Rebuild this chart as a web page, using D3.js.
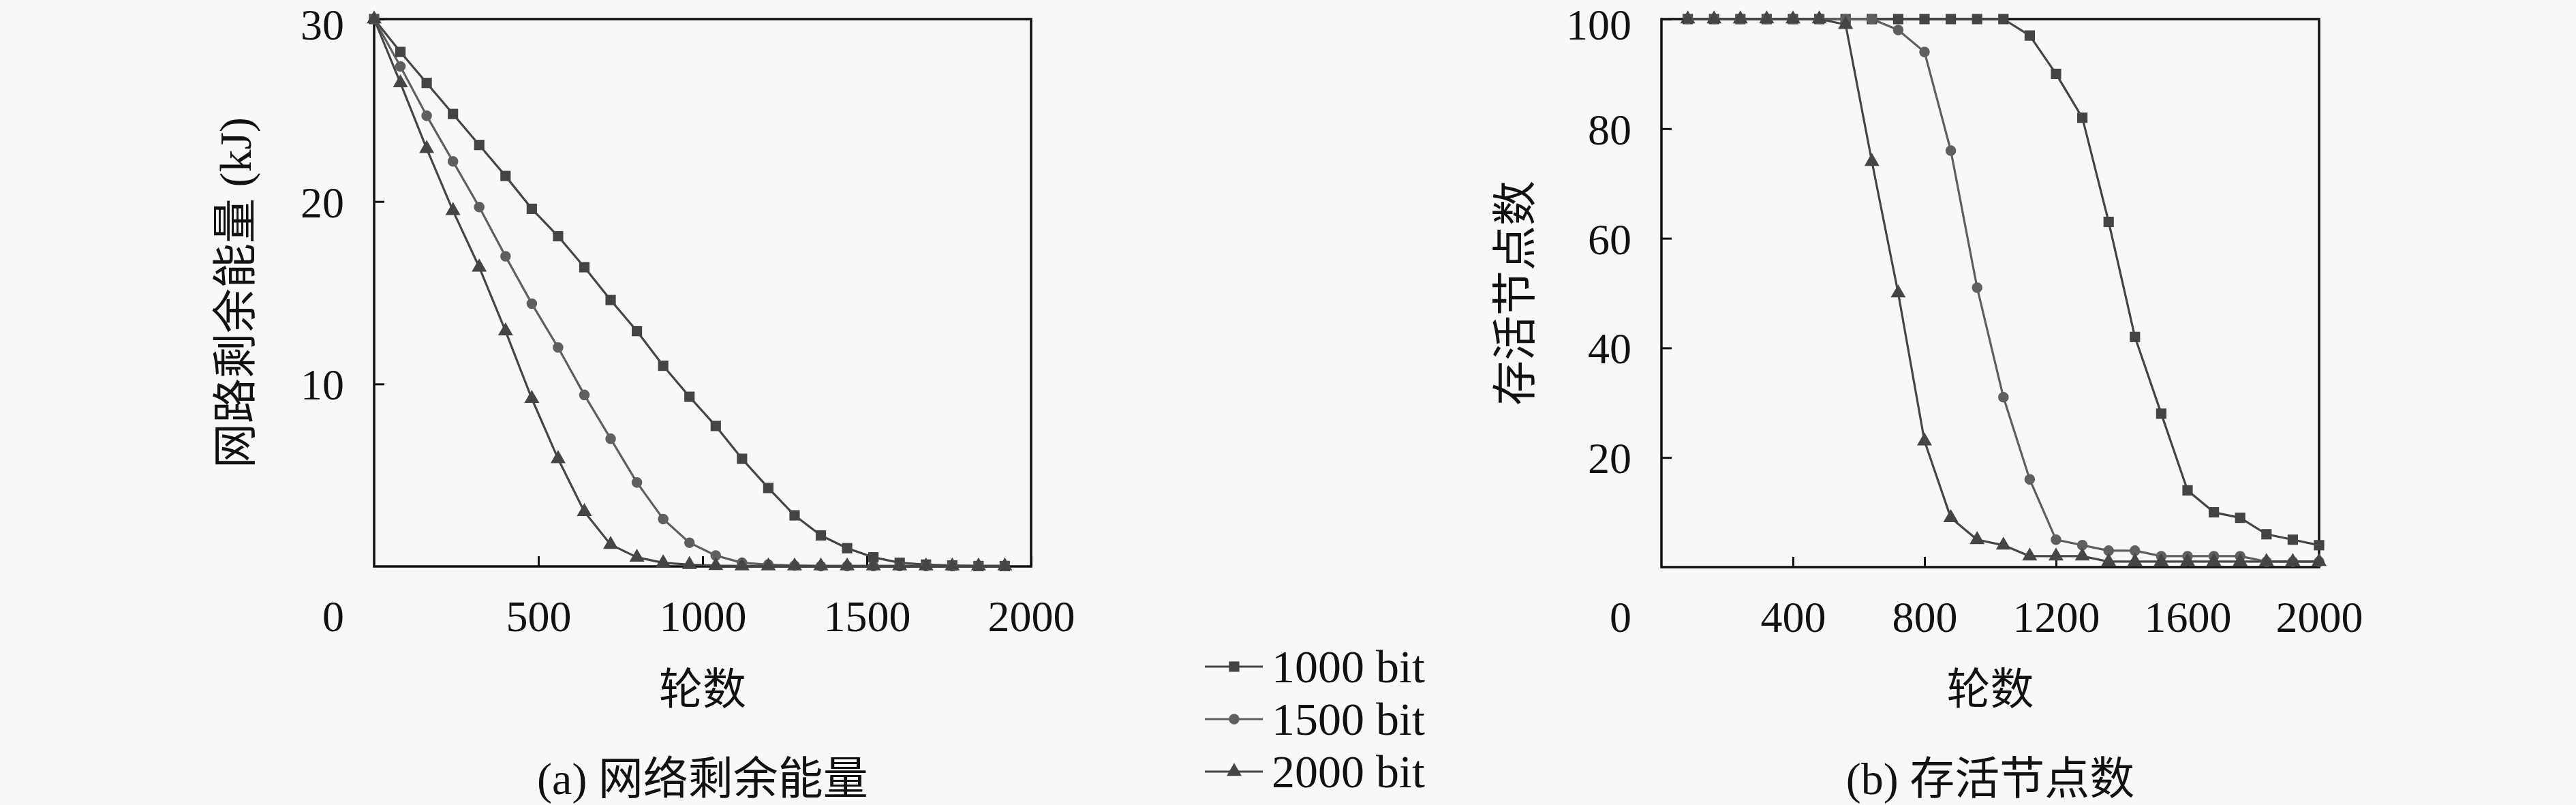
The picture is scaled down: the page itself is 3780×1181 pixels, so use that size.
<!DOCTYPE html>
<html>
<head>
<meta charset="utf-8">
<script src="https://cdn.jsdelivr.net/npm/d3@7"></script>
<style>
html,body{margin:0;padding:0;background:#f8f8f8;}
svg{display:block;}
text{font-family:"Liberation Serif","Noto Sans CJK SC",serif;fill:#111;}
</style>
</head>
<body>
<script>
// ---------- data ----------
const seriesNames = ["1000 bit", "1500 bit", "2000 bit"];
const roundsA = [0,80,160,240,320,400,480,560,640,720,800,880,960,1040,1120,1200,1280,1360,1440,1520,1600,1680,1760,1840,1920];
const energy1000 = [30,28.2,26.5,24.8,23.1,21.4,19.6,18.1,16.4,14.6,12.9,11.0,9.3,7.7,5.9,4.3,2.8,1.7,1.0,0.5,0.2,0.1,0.05,0.02,0.02];
const energy1500 = [30,27.4,24.7,22.2,19.7,17.0,14.4,12.0,9.4,7.0,4.6,2.6,1.3,0.6,0.2,0.1,0.05,0.02,0.02,0.02,0.02,0.02,0.02,0.02,0.02];
const energy2000 = [30,26.5,22.9,19.5,16.4,12.9,9.2,5.9,3.0,1.2,0.5,0.2,0.1,0.04,0.02,0.02,0.02,0.02,0.02,0.02,0.02,0.02,0.02,0.02,0.02];

const roundsB = [80,160,240,320,400,480,560,640,720,800,880,960,1040,1120,1200,1280,1360,1440,1520,1600,1680,1760,1840,1920,2000];
const alive1000 = [100,100,100,100,100,100,100,100,100,100,100,100,100,97,90,82,63,42,28,14,10,9,6,5,4];
const alive1500 = [100,100,100,100,100,100,100,100,98,94,76,51,31,16,5,4,3,3,2,2,2,2,1,1,1];
const alive2000 = [100,100,100,100,100,100,99,74,50,23,9,5,4,2,2,2,1,1,1,1,1,1,1,1,1];

const xTicksA = [500,1000,1500,2000];
const yTicksA = [10,20,30];
const xTicksB = [400,800,1200,1600,2000];
const yTicksB = [20,40,60,80,100];

const yLabelA = "网路剩余能量 (kJ)";
const yLabelB = "存活节点数";
const xLabel = "轮数";
const captionA = "(a) 网络剩余能量";
const captionB = "(b) 存活节点数";

// ---------- styles ----------
const colors = ["#444444", "#5f5f5f", "#454545"];
const symbols = [d3.symbolSquare, d3.symbolCircle, d3.symbolTriangle];
const symSizes = [230, 190, 210];
const FS = 64;
const fmt = d3.format("d");

const svg = d3.select("body").append("svg").attr("width",3780).attr("height",1181);
svg.append("rect").attr("width",3780).attr("height",1181).attr("fill","#f8f8f8");

function panel(cfg){
  const {x, y, xTicks, yTicks, rounds, series, yLabel, yLabelX, caption} = cfg;
  const g = svg.append("g");
  const [x0,x1] = x.range();
  const [y0,y1] = y.range();
  const yTop = y.domain()[1];

  // y axis ticks (inward)
  const ya = g.append("g").attr("transform",`translate(${x0},0)`)
    .call(d3.axisLeft(y).tickValues(yTicks).tickFormat(fmt).tickSizeInner(-15).tickSizeOuter(0).tickPadding(44));
  ya.select(".domain").remove();
  ya.selectAll("line").attr("stroke","#111").attr("stroke-width",3);
  ya.selectAll("text").attr("font-size",FS).attr("font-family","Liberation Serif").attr("fill","#111")
    .attr("dy", d => d === yTop ? "0.46em" : "0.35em");

  // x axis ticks (inward)
  const xa = g.append("g").attr("transform",`translate(0,${y0})`)
    .call(d3.axisBottom(x).tickValues(xTicks).tickFormat(fmt).tickSizeInner(-15).tickSizeOuter(0).tickPadding(50));
  xa.select(".domain").remove();
  xa.selectAll("line").attr("stroke","#111").attr("stroke-width",3);
  xa.selectAll("text").attr("font-size",FS).attr("font-family","Liberation Serif").attr("fill","#111");

  // origin label
  g.append("text").attr("x",x(0)-60).attr("y",y0+50).attr("dy","0.71em")
    .attr("text-anchor","middle").attr("font-size",FS).text("0");

  // frame
  g.append("rect").attr("x",x0).attr("y",y1).attr("width",x1-x0).attr("height",y0-y1)
    .attr("fill","none").attr("stroke","#111").attr("stroke-width",3.5);

  // series
  const line = d3.line().x(d=>x(d[0])).y(d=>y(d[1]));
  series.forEach((vals,i)=>{
    const pts = rounds.map((r,k)=>[r,vals[k]]);
    g.append("path").datum(pts).attr("d",line).attr("fill","none")
      .attr("stroke",colors[i]).attr("stroke-width",3.2).attr("stroke-linejoin","round");
  });
  series.forEach((vals,i)=>{
    const pts = rounds.map((r,k)=>[r,vals[k]]);
    g.append("g").selectAll("path").data(pts).join("path")
      .attr("transform",d=>`translate(${x(d[0])},${y(d[1])})`)
      .attr("d",d3.symbol().type(symbols[i]).size(symSizes[i]))
      .attr("fill",colors[i]);
  });

  // axis titles
  const cx = (x0+x1)/2, cy = (y0+y1)/2;
  g.append("text").attr("transform",`translate(${yLabelX},${cy}) rotate(-90)`)
    .attr("text-anchor","middle").attr("dy","0.35em").attr("font-size",66).text(yLabel);
  g.append("text").attr("x",cx).attr("y",1009).attr("dy","0.38em")
    .attr("text-anchor","middle").attr("font-size",64).text(xLabel);
  g.append("text").attr("x",cx).attr("y",1140).attr("dy","0.38em")
    .attr("text-anchor","middle").attr("font-size",66).text(caption);
}

panel({
  x: d3.scaleLinear().domain([0,2000]).range([549,1513]),
  y: d3.scaleLinear().domain([0,30]).range([831,28]),
  xTicks: xTicksA, yTicks: yTicksA, rounds: roundsA,
  series: [energy1000, energy1500, energy2000],
  yLabel: yLabelA, yLabelX: 345, caption: captionA
});
panel({
  x: d3.scaleLinear().domain([0,2000]).range([2438,3403]),
  y: d3.scaleLinear().domain([0,100]).range([832,28]),
  xTicks: xTicksB, yTicks: yTicksB, rounds: roundsB,
  series: [alive1000, alive1500, alive2000],
  yLabel: yLabelB, yLabelX: 2223, caption: captionB
});

// legend
const legendY = [978, 1055, 1132];
const lg = svg.append("g");
seriesNames.forEach((name,i)=>{
  const row = lg.append("g").attr("transform",`translate(0,${legendY[i]})`);
  row.append("line").attr("x1",1768).attr("x2",1853).attr("y1",0).attr("y2",0)
    .attr("stroke",colors[i]).attr("stroke-width",3.2);
  row.append("path").attr("transform","translate(1811,0)")
    .attr("d",d3.symbol().type(symbols[i]).size(symSizes[i])).attr("fill",colors[i]);
  row.append("text").attr("x",1866).attr("y",0).attr("dy","0.34em")
    .attr("font-size",68).text(name);
});
</script>
</body>
</html>
